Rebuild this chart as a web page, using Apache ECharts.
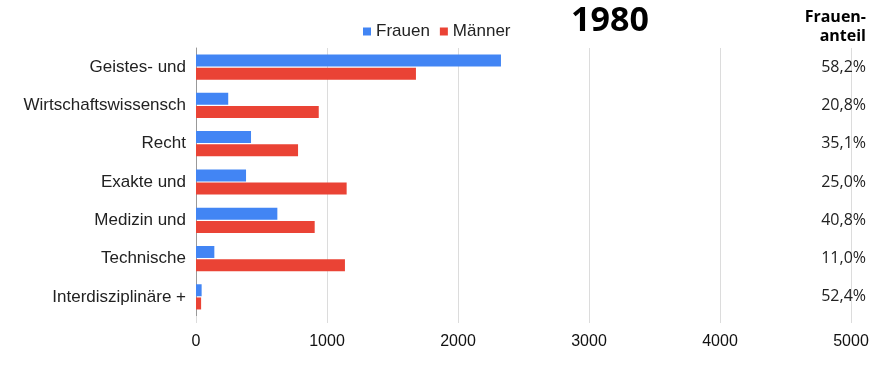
<!DOCTYPE html>
<html><head><meta charset="utf-8">
<script src="https://cdn.jsdelivr.net/npm/echarts@6/dist/echarts.min.js"></script>
<style>html,body{margin:0;padding:0;background:#fff}#c{width:873px;height:373px}</style>
</head><body><div id="c"></div>
<script>
var categories = ["Geistes- und","Wirtschaftswissensch","Recht","Exakte und","Medizin und","Technische","Interdisziplinäre +"];
var frauen = [2328, 246, 420, 382, 621, 140, 43];
var maenner = [1679, 937, 779, 1150, 906, 1137, 39];
var anteil = ["58,2%","20,8%","35,1%","25,0%","40,8%","11,0%","52,4%"];
var xTicks = [0, 1000, 2000, 3000, 4000, 5000];
var title = "1980";
var anteilTitle = ["Frauen-", "anteil"];

var chart = echarts.init(document.getElementById('c'), null, {renderer:'canvas'});
chart.setOption({
  animation:false,
  title:[
    {text:title, left:605, top:-1, textAlign:'center', textStyle:{fontFamily:'Open Sans', fontWeight:'bold', fontSize:34, color:'#000'}}
  ],
  graphic: anteilTitle.map(function(t, i){
    return {type:'text', right:7, top:9 + i*19, style:{text:t, fontFamily:'Open Sans', fontWeight:'bold', fontSize:16, fill:'#000'}};
  }),
  legend:{data:['Frauen','Männer'], left:358, top:18, itemWidth:8, itemHeight:8, itemGap:10, icon:'rect',
    textStyle:{fontFamily:'Liberation Sans', fontSize:17, color:'#222'}},
  grid:{left:196, right:22, top:48, bottom:57},
  xAxis:{type:'value', min:xTicks[0], max:xTicks[xTicks.length-1], interval:1000,
    axisLine:{show:false}, axisTick:{show:true, length:7, lineStyle:{color:'#dcdcdc'}},
    splitLine:{lineStyle:{color:'#dcdcdc', width:1}},
    axisLabel:{fontFamily:'Liberation Sans', fontSize:16, color:'#111', margin:18, formatter:function(v){return String(v);}}},
  yAxis:[
    {type:'category', data:categories, inverse:true,
      axisLine:{show:true, lineStyle:{color:'#999'}}, axisTick:{show:false},
      axisLabel:{fontFamily:'Liberation Sans', fontSize:17, color:'#222', margin:10}},
    {type:'category', data:anteil, inverse:true, position:'right',
      axisLine:{show:false}, axisTick:{show:false},
      axisLabel:{fontFamily:'Open Sans', fontSize:16, color:'#222', margin:15, align:'right'}}
  ],
  series:[
    {name:'Frauen', type:'bar', data:frauen, itemStyle:{color:'#4285f4'}, barWidth:12, barGap:'10%'},
    {name:'Männer', type:'bar', data:maenner, itemStyle:{color:'#ea4335'}, barWidth:12}
  ]
});
</script></body></html>
